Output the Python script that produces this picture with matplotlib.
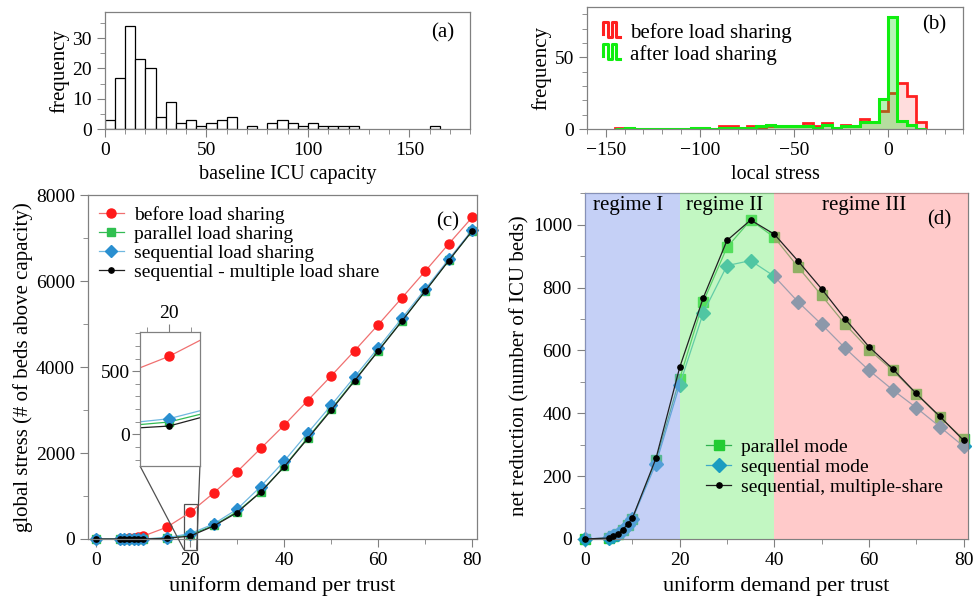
import numpy as np
import matplotlib
matplotlib.use("Agg")
import matplotlib.pyplot as plt
from matplotlib.lines import Line2D
from matplotlib.legend_handler import HandlerBase
from mpl_toolkits.axes_grid1.inset_locator import mark_inset

plt.rcParams['font.family'] = ['Liberation Serif', 'DejaVu Serif']
plt.rcParams['font.size'] = 14

# (a) baseline ICU capacity histogram (bin left edges, width 5)
cap_edges = [0, 5, 10, 15, 20, 25, 30, 35, 40, 45, 50, 55, 60, 65, 70, 75, 80, 85, 90, 95,
             100, 105, 110, 115, 120, 160]
cap_counts = [3, 17, 34, 23, 20, 4, 9, 2, 3, 1, 2, 3, 4, 0, 1, 0, 2, 3, 2, 1,
              2, 1, 1, 1, 1, 1]

# (b) local stress histograms, bins of 5 from -145 to 20
stress_edges = list(range(-145, 25, 5))
before_counts = [1, 0, 0, 0, 0, 0, 0, 0, 1, 1, 0, 2, 2, 1, 2, 1, 2, 2, 2, 2,
                 4, 2, 4, 1, 3, 2, 7, 5, 13, 25, 32, 23, 5]
after_counts = [0, 1, 0, 0, 0, 0, 0, 0, 1, 1, 0, 1, 1, 1, 1, 2, 3, 2, 2, 2,
                2, 1, 3, 1, 2, 2, 5, 5, 21, 78, 6, 3, 0]

# (c) global stress vs uniform demand
demand = [0, 5, 6, 7, 8, 9, 10, 15, 20, 25, 30, 35, 40, 45, 50, 55, 60, 65, 70, 75, 80]
stress_before = [0, 3, 8, 16, 29, 46, 66, 271, 617, 1069, 1564, 2106, 2648, 3221, 3795,
                 4383, 4987, 5607, 6234, 6869, 7488]
stress_parallel = [0, 0, 0, 1, 1, 1, 1, 21, 98, 314, 636, 1091, 1688, 2355, 3020,
                   3700, 4384, 5070, 5772, 6481, 7170]
stress_sequential = [0, 0, 0, 1, 1, 1, 2, 31, 124, 349, 694, 1220, 1812, 2466, 3112,
                     3776, 4450, 5132, 5816, 6512, 7193]
stress_multiple = [0, 0, 0, 0, 0, 0, 0, 14, 66, 301, 614, 1091, 1678, 2336, 2999,
                   3683, 4375, 5065, 5771, 6479, 7174]

# (d) net reduction
red_parallel = [0, 3, 8, 15, 28, 45, 65, 250, 510, 755, 928, 1015, 960, 866, 775,
                683, 603, 537, 462, 388, 318]
red_sequential = [0, 3, 8, 15, 28, 45, 64, 240, 491, 720, 870, 886, 836, 755, 683,
                  607, 537, 475, 418, 357, 295]
red_multiple = [0, 3, 8, 17, 30, 47, 66, 257, 546, 768, 950, 1015, 970, 885, 796,
                700, 612, 542, 463, 390, 314]

regimes = ['regime I', 'regime II', 'regime III']
regime_bounds = [(0, 20), (20, 40), (40, 82)]
regime_colors = ['#8ca3ef', '#86f086', '#ff9696']
regime_text_x = [9, 29.5, 59]

SPINE = '#808080'


def style(ax):
    for s in ax.spines.values():
        s.set_color(SPINE)
        s.set_linewidth(0.9)
    ax.tick_params(which='both', direction='out', color=SPINE, top=False, right=False,
                   labelsize=14)
    ax.tick_params(which='major', length=6)
    ax.tick_params(which='minor', length=3.5)


class StepHandler(HandlerBase):
    def create_artists(self, legend, orig_handle, xdescent, ydescent, width, height,
                       fontsize, trans):
        xs = np.array([0, 0, 0.3, 0.3, 0.55, 0.55, 0.78, 0.78, 1.0]) * width - xdescent
        ys = np.array([0.25, 1, 1, 0.1, 0.1, 1, 1, 0.1, 0.1]) * height * 1.1 - ydescent
        ln = Line2D(xs, ys, color=orig_handle.get_color(), lw=2.2, transform=trans)
        return [ln]


fig = plt.figure(figsize=(9.8, 5.98), dpi=100)

# ---- (a)
ax_a = fig.add_axes([0.107, 0.784, 0.373, 0.196])
style(ax_a)
cap_edges_arr = np.array(cap_edges)
cap_counts_arr = np.array(cap_counts)
keep = cap_counts_arr > 0
ax_a.bar(cap_edges_arr[keep], cap_counts_arr[keep], width=5, align='edge',
         fc='white', ec='black', lw=0.9)
ax_a.set_xlim(0, 180)
ax_a.set_ylim(0, 38.6)
ax_a.set_xticks([0, 50, 100, 150])
ax_a.set_xticks(np.arange(0, 181, 10), minor=True)
ax_a.set_yticks([0, 10, 20, 30])
ax_a.set_yticks(np.arange(0, 38, 5), minor=True)
ax_a.set_xlabel('baseline ICU capacity', fontsize=14.5)
ax_a.set_ylabel('frequency', fontsize=15, labelpad=2)
ax_a.text(0.955, 0.9, '(a)', transform=ax_a.transAxes, ha='right', va='top', fontsize=15)

# ---- (b)
ax_b = fig.add_axes([0.599, 0.784, 0.384, 0.204])
style(ax_b)
ax_b.stairs(before_counts, stress_edges, fill=True, color='#ff2020', alpha=0.15, lw=0)
ax_b.stairs(before_counts, stress_edges, color='#ff2020', lw=2)
ax_b.stairs(after_counts, stress_edges, fill=True, color='#10e010', alpha=0.3, lw=0)
ax_b.stairs(after_counts, stress_edges, color='#10ee10', lw=2.2)
ax_b.set_xlim(-160, 40)
ax_b.set_ylim(0, 85)
ax_b.set_xticks([-150, -100, -50, 0])
ax_b.set_xticklabels(['\u2212150', '\u2212100', '\u221250', '0'])
ax_b.set_xticks(np.arange(-160, 41, 10), minor=True)
ax_b.set_yticks([0, 50])
ax_b.set_yticks(np.arange(0, 85, 10), minor=True)
ax_b.set_xlabel('local stress', fontsize=14.5)
ax_b.set_ylabel('frequency', fontsize=15, labelpad=2)
ax_b.text(0.955, 0.93, '(b)', transform=ax_b.transAxes, ha='right', va='top', fontsize=15)
h1 = Line2D([], [], color='#ff2020')
h2 = Line2D([], [], color='#10ee10')
ax_b.legend([h1, h2], ['before load sharing', 'after load sharing'],
            handler_map={Line2D: StepHandler()}, loc='upper left',
            bbox_to_anchor=(0.01, 0.97), frameon=False, fontsize=15,
            handlelength=0.8, handletextpad=0.5, labelspacing=0.1, borderaxespad=0.2)

# ---- (c)
ax_c = fig.add_axes([0.0898, 0.0987, 0.397, 0.575])
style(ax_c)

c_styles = [(stress_before, '#f07070', 'o', 6.5, '#ff1a1a', 'before load sharing'),
            (stress_parallel, '#33bb55', 's', 6, '#30c050', 'parallel load sharing'),
            (stress_sequential, '#70b8e0', 'D', 6.5, '#2a8fd0', 'sequential load sharing'),
            (stress_multiple, '#202020', 'o', 3.8, 'black', 'sequential - multiple load share')]
for ys, col, mk, ms, mc, lab in c_styles:
    ax_c.plot(demand, ys, color=col, lw=0.9, marker=mk, ms=ms, mfc=mc, mec=mc,
              label=lab, clip_on=False)
ax_c.set_xlim(-1.7, 81)
ax_c.set_ylim(0, 8000)
ax_c.set_xticks([0, 20, 40, 60, 80])
ax_c.set_xticks(np.arange(0, 81, 10), minor=True)
ax_c.set_yticks([0, 2000, 4000, 6000, 8000])
ax_c.set_yticks(np.arange(0, 8001, 1000), minor=True)
ax_c.set_xlabel('uniform demand per trust', fontsize=16, labelpad=5)
ax_c.set_ylabel('global stress (# of beds above capacity)', fontsize=15, labelpad=2)
ax_c.legend(loc='upper left', frameon=False, fontsize=14, handlelength=1.3,
            handletextpad=0.5, labelspacing=0.08, borderaxespad=0.15)
ax_c.text(0.955, 0.95, '(c)', transform=ax_c.transAxes, ha='right', va='top', fontsize=15)

ax_in = fig.add_axes([0.1429, 0.2207, 0.0611, 0.2241])
for s in ax_in.spines.values():
    s.set_color(SPINE)
    s.set_linewidth(0.9)
for ys, col, mk, ms, mc, lab in c_styles:
    ax_in.plot(demand, ys, color=col, lw=0.9, marker=mk, ms=ms, mfc=mc, mec=mc)
ax_in.set_xlim(18.7, 21.4)
ax_in.set_ylim(-250, 810)
ax_in.xaxis.tick_top()
ax_in.set_xticks([20])
ax_in.set_xticks([19, 20, 21], minor=True)
ax_in.set_yticks([0, 500])
ax_in.set_yticks(np.arange(-200, 801, 100), minor=True)
ax_in.tick_params(which='both', direction='out', color=SPINE, labelsize=14,
                  bottom=False, right=False, top=True, left=True, pad=1)
ax_in.tick_params(which='major', length=6)
ax_in.tick_params(which='minor', length=3.5)
pp, p1, p2 = mark_inset(ax_c, ax_in, loc1=3, loc2=4, fc='none', ec='#505050', lw=0.9)
for p in (pp, p1, p2):
    p.set_clip_on(False)

# ---- (d)
ax_d = fig.add_axes([0.597, 0.0987, 0.391, 0.578])
style(ax_d)
ax_d.plot(demand, red_parallel, color='#30b050', lw=0.9, marker='s', ms=6.5,
          mfc='#22cc33', mec='#22cc33', label='parallel mode', clip_on=False, zorder=2)
ax_d.plot(demand, red_sequential, color='#40a8c8', lw=0.9, marker='D', ms=7,
          mfc='#1a9cc0', mec='#1a9cc0', label='sequential mode', clip_on=False, zorder=2)
for (x0, x1), c in zip(regime_bounds, regime_colors):
    ax_d.axvspan(x0, x1, color=c, alpha=0.5, lw=0, zorder=3)
ax_d.plot(demand, red_multiple, color='#202020', lw=0.9, marker='o', ms=3.8,
          mfc='black', mec='black', label='sequential, multiple-share', clip_on=False,
          zorder=4)
for name, xt in zip(regimes, regime_text_x):
    ax_d.text(xt, 1062, name, ha='center', va='center', fontsize=15, zorder=5)
ax_d.set_xlim(0, 81)
ax_d.set_ylim(0, 1100)
ax_d.set_xticks([0, 20, 40, 60, 80])
ax_d.set_xticks(np.arange(0, 81, 10), minor=True)
ax_d.set_yticks([0, 200, 400, 600, 800, 1000])
ax_d.set_yticks(np.arange(0, 1101, 100), minor=True)
ax_d.set_xlabel('uniform demand per trust', fontsize=16, labelpad=5)
ax_d.set_ylabel('net reduction (number of ICU beds)', fontsize=15, labelpad=2)
ax_d.legend(loc='lower left', bbox_to_anchor=(0.27, 0.075), frameon=False, fontsize=14,
            handlelength=1.3, handletextpad=0.5, labelspacing=0.12)
ax_d.text(0.955, 0.95, '(d)', transform=ax_d.transAxes, ha='right', va='top', fontsize=15,
          zorder=5)

fig.savefig('out.png', dpi=100)
